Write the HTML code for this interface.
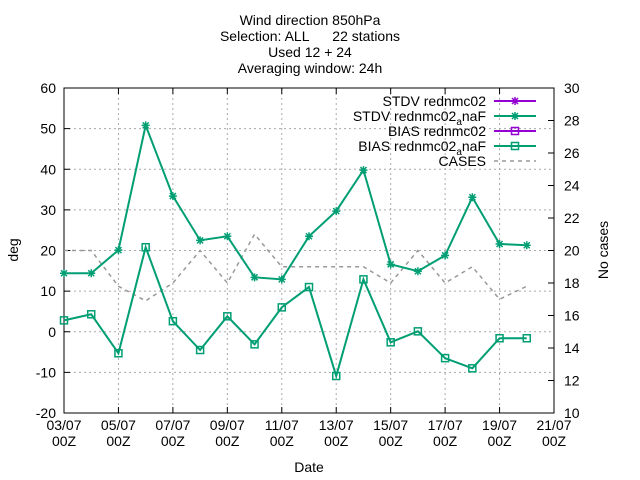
<!DOCTYPE html>
<html><head><meta charset="utf-8"><style>
body{margin:0;background:#fff}
svg{display:block;font-family:"Liberation Sans",Arial,sans-serif;font-size:14px}
</style></head><body>
<svg id="chart" width="640" height="480" viewBox="0 0 640 480">
<g text-anchor="middle" font-size="14">
<text x="310" y="25">Wind direction 850hPa</text>
<text x="310" y="41" style="white-space:pre">Selection: ALL      22 stations</text>
<text x="310" y="57">Used 12 + 24</text>
<text x="310" y="73">Averaging window: 24h</text>
</g>
<g id="grid"></g>
<g id="axes"></g>
<g id="series"></g>
<text transform="translate(18,250) rotate(-90)" text-anchor="middle">deg</text>
<text transform="translate(608,250) rotate(-90)" text-anchor="middle">No cases</text>
<text x="309" y="472" text-anchor="middle">Date</text>
<g id="legend" text-anchor="end"></g>
</svg>
<script>
const xLabels=["03/07","05/07","07/07","09/07","11/07","13/07","15/07","17/07","19/07","21/07"];
const yTicks=[-20,-10,0,10,20,30,40,50,60];
const y2Ticks=[10,12,14,16,18,20,22,24,26,28,30];
const days=[0,1,2,3,4,5,6,7,8,9,10,11,12,13,14,15,16,17];
const stdv=[14.4,14.4,20.1,50.8,33.4,22.5,23.5,13.4,12.9,23.5,29.7,39.8,16.6,14.9,18.8,33.1,21.6,21.3];
const bias=[2.8,4.3,-5.3,20.8,2.6,-4.5,3.8,-3.1,6.0,11.0,-10.9,12.9,-2.6,0.1,-6.5,-9.0,-1.6,-1.6];
const cases=[20,20,17.8,16.9,18,20,18,21,19,19,19,19,18,20,18,19,17,17.8];
const L=64,R=554,T=88,B=413,NS="http://www.w3.org/2000/svg";
const xs=d=>L+(R-L)*d/18, ys=v=>B-(B-T)*(v+20)/80, y2=v=>B-(B-T)*(v-10)/20;
function mk(p,t,a){const e=document.createElementNS(NS,t);for(const k in a)e.setAttribute(k,a[k]);p.appendChild(e);return e;}
const G=document.getElementById('grid'),A=document.getElementById('axes'),S=document.getElementById('series'),LG=document.getElementById('legend');
xLabels.forEach((l,i)=>{const x=xs(i*2);
 if(i>0&&i<9){const g=mk(G,'line',{x1:x,x2:x,y1:T,y2:B,stroke:'#aaa','stroke-dasharray':'2,3'});
 
 }
 mk(A,'line',{x1:x,x2:x,y1:B,y2:B-6,stroke:'#000'});mk(A,'line',{x1:x,x2:x,y1:T,y2:T+6,stroke:'#000'});
 const t=mk(A,'text',{x:x,y:B+17,'text-anchor':'middle'});t.textContent=l;
 
 
 const t2=mk(A,'text',{x:x,y:B+33,'text-anchor':'middle'});t2.textContent='00Z';
 
 });
yTicks.forEach(v=>{const y=ys(v);
 if(v>-20&&v<60){const g=mk(G,'line',{x1:L,x2:R,y1:y,y2:y,stroke:'#aaa','stroke-dasharray':'2,3'});
 
 }
 mk(A,'line',{x1:L,x2:L+6,y1:y,y2:y,stroke:'#000'});
 const t=mk(A,'text',{x:L-8,y:y+5,'text-anchor':'end'});t.textContent=v;
 
 });
y2Ticks.forEach(v=>{const y=y2(v);mk(A,'line',{x1:R-6,x2:R,y1:y,y2:y,stroke:'#000'});
 const t=mk(A,'text',{x:R+10,y:y+5});t.textContent=v;
 
 });
mk(A,'rect',{x:L,y:T,width:R-L,height:B-T,fill:'none',stroke:'#000'});
const C='#009e73';
const cl=mk(S,'polyline',{points:days.map((d,i)=>xs(d)+','+y2(cases[i])).join(' '),fill:'none',stroke:'#999','stroke-width':1.5,'stroke-dasharray':'4,4'});


function star(x,y){const g=mk(S,'path',{d:`M${x-4},${y}h8M${x},${y-4}v8M${x-3},${y-3}l6,6M${x-3},${y+3}l6,-6`,stroke:C,'stroke-width':1.5,fill:'none'});
 
 }
function sq(x,y){const g=mk(S,'rect',{x:x-3.5,y:y-3.5,width:7,height:7,stroke:C,'stroke-width':1.5,fill:'none'});
 
 }
const sl=mk(S,'polyline',{points:days.map((d,i)=>xs(d)+','+ys(stdv[i])).join(' '),fill:'none',stroke:C,'stroke-width':2});


const bl=mk(S,'polyline',{points:days.map((d,i)=>xs(d)+','+ys(bias[i])).join(' '),fill:'none',stroke:C,'stroke-width':2});


days.forEach((d,i)=>{star(xs(d),ys(stdv[i]));sq(xs(d),ys(bias[i]));});
const leg=[["STDV rednmc02","#9400d3","star",null],["STDV rednmc02","#009e73","star","naF"],["BIAS rednmc02","#9400d3","sq",null],["BIAS rednmc02","#009e73","sq","naF"],["CASES","#999","dash",null]];
leg.forEach((e,i)=>{const y=101+i*15;
 const t=mk(LG,'text',{x:486,y:y+5});
 
 if(e[3]){t.appendChild(document.createTextNode(e[0]));const s=mk(t,'tspan',{'font-size':10,dy:4});s.textContent='a';const s2=mk(t,'tspan',{dy:-4});s2.textContent=e[3];}else t.textContent=e[0];
 const ln=mk(LG,'line',{x1:494,x2:536,y1:y,y2:y,stroke:e[1],'stroke-width':e[2]=='dash'?1.5:2,'stroke-dasharray':e[2]=='dash'?'4,4':'none'});
 
 
 const x=515;
 if(e[2]=='star')mk(LG,'path',{d:`M${x-4},${y}h8M${x},${y-4}v8M${x-3},${y-3}l6,6M${x-3},${y+3}l6,-6`,stroke:e[1],'stroke-width':1.5});
 if(e[2]=='sq')mk(LG,'rect',{x:x-3.5,y:y-3.5,width:7,height:7,stroke:e[1],'stroke-width':1.5,fill:'none'});});
</script>
</body></html>
